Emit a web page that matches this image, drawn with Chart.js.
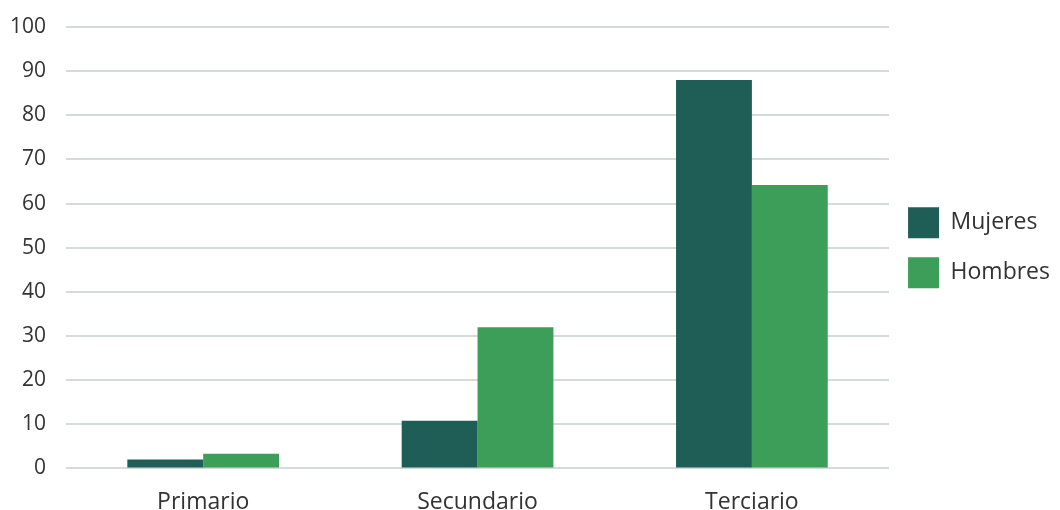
<!DOCTYPE html>
<html>
<head>
<meta charset="utf-8">
<script src="https://cdn.jsdelivr.net/npm/chart.js@4/dist/chart.umd.min.js"></script>
<style>
  html, body { margin: 0; padding: 0; background: #ffffff; }
  #wrap { width: 1060px; height: 510px; position: relative; }
</style>
</head>
<body>
<div id="wrap"><canvas id="nivel_chart"></canvas></div>
<script>
// nivel educativo por sexo (%)
const categories = ['Primario', 'Secundario', 'Terciario'];
const mujeres = [2, 10.8, 88];
const hombres = [3.3, 32, 64.2];
const y_ticks = [0, 10, 20, 30, 40, 50, 60, 70, 80, 90, 100];

const text_color = '#333333';
const grid_color = '#d5dbd9';

const data =
{
    labels: categories,
    datasets:
        [{
            label: 'Mujeres',
            data: mujeres,
            backgroundColor: '#1f5e56',
            borderWidth: 0,
            barPercentage: 1,
            categoryPercentage: 0.553
        },
        {
            label: 'Hombres',
            data: hombres,
            backgroundColor: '#3c9e58',
            borderWidth: 0,
            barPercentage: 1,
            categoryPercentage: 0.553
        }]
};

const config =
{
    type: 'bar',
    data,
    options:
    {
        responsive: true,
        maintainAspectRatio: false,
        animation: false,
        layout:
        {
            padding: { left: -10, right: 0, top: 27, bottom: -18 }
        },
        scales:
        {
            x:
            {
                grid: { display: false },
                border: { display: false },
                ticks:
                {
                    color: text_color,
                    padding: 12,
                    font: { family: 'Open Sans', size: 23 }
                }
            },
            y:
            {
                min: 0,
                max: 100,
                afterBuildTicks: (axis) => { axis.ticks = y_ticks.map(v => ({ value: v })); },
                // top spacing comes from layout.padding only
                afterFit: (axis) => { axis.paddingTop = 0; },
                grid:
                {
                    color: grid_color,
                    lineWidth: 2,
                    drawTicks: false
                },
                border: { display: false },
                ticks:
                {
                    color: text_color,
                    padding: 20,
                    font: { family: 'Open Sans', size: 21 }
                }
            }
        },
        plugins:
        {
            tooltip: { enabled: false },
            legend:
            {
                position: 'right',
                align: 'center',
                fullSize: false,
                labels:
                {
                    boxWidth: 31,
                    boxHeight: 31,
                    padding: 19,
                    color: text_color,
                    font: { family: 'Open Sans', size: 23 }
                }
            }
        }
    }
};

const nivel_chart = new Chart(document.querySelector('#nivel_chart'), config);
</script>
</body>
</html>
